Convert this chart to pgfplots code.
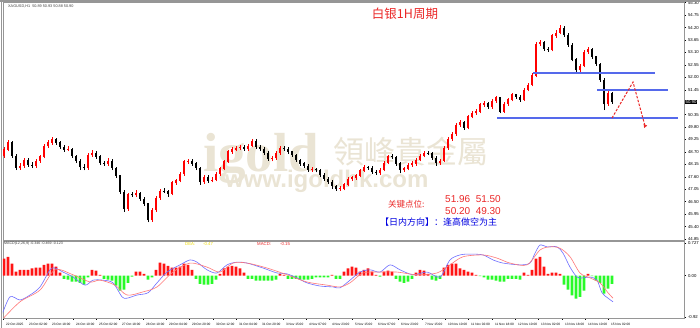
\documentclass[border=0pt]{standalone}
\usepackage{pgfplots}
\pgfplotsset{compat=1.18}
\usepackage{pgfplotstable}
\usetikzlibrary{arrows.meta}
\usepackage{fontspec}
\setmainfont{Liberation Sans}
\newfontfamily\cjk{Noto Sans CJK SC}
\newfontfamily\cjktc{Noto Sans CJK TC}
\newfontfamily\wmserif{Liberation Serif}
\definecolor{candleup}{RGB}{255,0,0}
\definecolor{candledn}{RGB}{0,0,0}
\definecolor{wm}{RGB}{234,228,212}
\definecolor{sline}{RGB}{85,105,235}
\definecolor{histup}{RGB}{255,20,20}
\definecolor{histdn}{RGB}{40,250,40}
\definecolor{difc}{RGB}{110,110,255}
\definecolor{deac}{RGB}{255,120,120}
\definecolor{framec}{RGB}{150,150,150}
\definecolor{titlered}{RGB}{235,40,40}
\definecolor{txtblue}{RGB}{0,0,225}
\definecolor{deay}{RGB}{240,220,0}

\pgfplotstableread{
x o h l c
4 48.52 48.90 48.45 48.79
8 48.79 49.22 48.72 49.14
20 47.99 48.20 47.92 48.08
24 48.08 48.45 48.00 48.34
36 48.08 48.38 48.00 48.30
40 48.30 48.58 48.22 48.48
44 48.48 49.05 48.42 48.96
48 48.96 49.22 48.88 49.10
52 49.10 49.35 49.02 49.27
68 48.79 48.95 48.72 48.82
88 47.99 48.66 47.92 48.56
92 48.56 48.78 48.48 48.65
108 48.17 48.42 48.10 48.30
128 46.18 46.90 46.10 46.80
136 46.78 47.00 46.70 46.88
152 45.69 46.22 45.62 46.13
156 46.13 46.75 46.05 46.66
160 46.66 47.08 46.58 46.97
172 46.84 47.42 46.78 47.33
176 47.33 47.52 47.25 47.42
180 47.42 47.82 47.35 47.72
184 47.72 48.36 47.65 48.26
188 48.26 48.40 48.18 48.30
204 47.37 47.70 47.30 47.59
212 47.42 47.58 47.35 47.46
216 47.46 47.80 47.40 47.72
220 47.72 48.05 47.65 47.95
224 47.95 48.35 47.88 48.26
228 48.26 48.80 48.20 48.70
232 48.70 48.90 48.62 48.79
236 48.79 48.98 48.72 48.87
240 48.87 49.02 48.78 48.92
248 48.83 49.06 48.76 48.96
252 48.96 49.28 48.90 49.18
272 48.39 48.52 48.28 48.41
276 48.41 48.74 48.35 48.65
280 48.65 48.96 48.58 48.87
312 47.90 48.02 47.83 47.92
340 47.06 47.18 46.98 47.08
344 47.08 47.33 47.00 47.24
348 47.24 47.60 47.18 47.50
352 47.50 47.65 47.42 47.55
356 47.55 47.74 47.48 47.64
360 47.64 47.95 47.58 47.86
364 47.86 48.12 47.80 48.03
380 47.77 47.98 47.70 47.90
384 47.90 48.30 47.84 48.21
388 48.21 48.58 48.15 48.48
404 47.90 48.05 47.82 47.95
408 47.95 48.22 47.88 48.12
412 48.12 48.28 48.05 48.17
416 48.17 48.44 48.10 48.34
420 48.34 48.62 48.28 48.52
424 48.52 48.75 48.46 48.65
440 48.21 48.40 48.14 48.30
444 48.30 48.96 48.24 48.87
448 48.87 49.36 48.80 49.27
452 49.27 49.58 49.20 49.49
456 49.49 49.98 49.42 49.89
460 49.89 50.12 49.82 50.02
468 49.76 50.34 49.70 50.25
472 50.25 50.52 50.18 50.42
476 50.42 50.58 50.35 50.47
480 50.47 50.88 50.40 50.78
484 50.78 50.96 50.70 50.86
492 50.69 51.04 50.62 50.95
496 50.95 51.18 50.88 51.09
504 50.47 50.92 50.42 50.82
508 50.82 51.10 50.75 51.00
512 51.00 51.30 50.94 51.22
524 51.00 51.52 50.95 51.44
528 51.44 51.75 51.38 51.66
532 51.66 52.20 51.60 52.06
536 52.06 53.58 52.00 53.47
540 53.47 53.65 53.38 53.52
552 53.21 53.92 53.15 53.83
556 53.83 54.08 53.75 53.96
560 53.96 54.31 53.90 54.18
580 52.32 52.60 52.22 52.50
584 52.50 53.20 52.44 53.12
588 53.12 53.32 53.05 53.21
608 50.80 51.40 50.75 51.30
}\upT

\pgfplotstableread{
x o h l c
12 49.14 49.20 48.45 48.52
16 48.52 48.60 47.90 47.99
28 48.34 48.42 48.05 48.12
32 48.12 48.25 47.98 48.08
56 49.27 49.33 49.02 49.10
60 49.10 49.18 48.85 48.92
64 48.92 49.00 48.70 48.79
72 48.82 48.88 48.45 48.52
76 48.52 48.58 48.20 48.30
80 48.30 48.38 47.92 48.03
84 48.03 48.15 47.88 47.99
96 48.65 48.72 48.40 48.48
100 48.48 48.55 48.12 48.21
104 48.21 48.30 48.08 48.17
112 48.30 48.38 47.90 47.99
116 47.99 48.05 47.55 47.64
120 47.64 47.70 46.85 46.93
124 46.93 47.00 46.05 46.18
132 46.80 46.92 46.70 46.78
140 46.88 46.95 46.55 46.62
144 46.62 46.70 46.30 46.40
148 46.40 46.45 45.58 45.69
164 46.97 47.10 46.88 46.95
168 46.95 47.02 46.72 46.84
192 48.30 48.38 48.10 48.17
196 48.17 48.25 47.90 47.99
200 47.99 48.05 47.25 47.37
208 47.59 47.66 47.33 47.42
244 48.92 49.00 48.75 48.83
256 49.18 49.25 48.85 48.92
260 48.92 49.00 48.74 48.83
264 48.83 48.90 48.58 48.65
268 48.65 48.72 48.30 48.39
284 48.87 48.95 48.76 48.83
288 48.83 48.90 48.62 48.70
292 48.70 48.76 48.48 48.56
296 48.56 48.62 48.26 48.34
300 48.34 48.40 48.08 48.17
304 48.17 48.25 48.00 48.08
308 48.08 48.15 47.82 47.90
316 47.92 48.00 47.80 47.88
320 47.88 47.95 47.60 47.68
324 47.68 47.75 47.42 47.50
328 47.50 47.58 47.28 47.37
332 47.37 47.44 47.05 47.19
336 47.19 47.25 46.98 47.06
368 48.03 48.10 47.92 47.99
372 47.99 48.06 47.74 47.81
376 47.81 47.88 47.68 47.77
392 48.48 48.60 48.38 48.46
396 48.46 48.52 48.10 48.17
400 48.17 48.24 47.75 47.90
428 48.65 48.76 48.56 48.63
432 48.63 48.70 48.36 48.43
436 48.43 48.50 48.10 48.21
464 50.02 50.08 49.68 49.76
488 50.86 50.92 50.60 50.69
500 51.09 51.14 50.40 50.47
516 51.22 51.28 51.05 51.13
520 51.13 51.20 50.92 51.00
544 53.52 53.60 53.18 53.25
548 53.25 53.34 53.12 53.21
564 54.18 54.25 53.80 53.87
568 53.87 53.95 53.35 53.43
572 53.43 53.50 52.70 52.77
576 52.77 52.85 52.20 52.32
592 53.21 53.28 52.82 52.90
596 52.90 52.96 52.50 52.59
600 52.59 52.65 51.80 51.88
604 51.88 51.95 50.55 50.80
612 51.30 51.35 50.82 50.90
}\downT

\pgfplotstableread{
x v
4 0.38
8 0.42
12 0.27
16 0.09
20 0.13
24 0.13
28 0.13
32 0.16
36 0.18
40 0.18
44 0.24
48 0.27
52 0.27
56 0.20
60 0.07
64 -0.07
68 -0.09
72 -0.13
76 -0.13
80 -0.16
84 -0.20
88 -0.04
92 0.13
96 0.11
100 0.02
104 -0.07
108 -0.09
112 -0.11
116 -0.22
120 -0.33
124 -0.31
128 -0.16
132 -0.02
136 0.09
140 0.09
144 0.04
148 -0.09
152 -0.04
156 0.13
160 0.29
164 0.27
168 0.22
172 0.18
176 0.18
180 0.20
184 0.27
188 0.24
192 0.13
196 -0.07
200 -0.18
204 -0.20
208 -0.20
212 -0.18
216 -0.09
220 0.04
224 0.16
228 0.20
232 0.22
236 0.20
240 0.16
244 0.07
248 -0.07
252 -0.07
256 -0.11
260 -0.11
264 -0.11
268 -0.11
272 -0.11
276 -0.09
280 0.04
284 0.02
288 -0.07
292 -0.07
296 -0.07
300 -0.09
304 -0.09
308 -0.09
312 -0.07
316 -0.04
320 -0.04
324 -0.04
328 -0.04
332 0.02
336 -0.07
340 -0.07
344 0.09
348 0.16
352 0.20
356 0.18
360 0.09
364 0.13
368 0.16
372 0.09
376 0.02
380 -0.02
384 0.09
388 0.11
392 0.09
396 -0.07
400 -0.13
404 -0.16
408 -0.13
412 -0.07
416 0.07
420 0.13
424 0.11
428 0.04
432 -0.09
436 -0.11
440 -0.07
444 0.18
448 0.24
452 0.27
456 0.27
460 0.16
464 0.13
468 0.09
472 0.07
476 0.02
480 -0.01
484 -0.04
488 -0.09
492 -0.09
496 -0.11
500 -0.13
504 -0.13
508 -0.07
512 -0.07
516 -0.07
520 -0.09
524 0.07
528 0.02
532 0.13
536 0.38
540 0.42
544 0.20
548 0.04
552 0.07
556 0.07
560 0.04
564 -0.20
568 -0.31
572 -0.44
576 -0.51
580 -0.47
584 -0.33
588 0.04
592 -0.01
596 -0.11
600 -0.16
604 -0.40
608 -0.29
612 -0.18
}\histT

\pgfplotstableread{
x v
2 -0.87
10 -0.47
20 -0.54
30 -0.43
40 -0.25
50 0.13
55 0.17
63 0.08
73 -0.03
85 -0.21
93 -0.10
103 -0.10
113 -0.16
122 -0.47
127 -0.50
137 -0.43
148 -0.38
157 -0.16
167 0.08
180 0.24
190 0.35
197 0.30
207 0.13
217 0.06
227 0.24
237 0.30
247 0.28
263 0.17
277 0.06
287 0.04
297 -0.05
307 -0.16
320 -0.23
333 -0.25
340 -0.27
350 -0.10
360 0.08
370 0.13
380 0.08
390 0.24
400 0.13
413 0.02
427 0.08
440 -0.03
450 0.35
460 0.46
470 0.48
483 0.46
493 0.35
503 0.28
520 0.24
530 0.28
535 0.50
540 0.68
547 0.64
557 0.64
563 0.50
570 0.19
577 -0.03
583 -0.05
590 -0.03
597 -0.10
602 -0.38
608 -0.50
613 -0.58
}\difT

\pgfplotstableread{
x v
2 -0.98
20 -0.58
40 -0.32
55 0.13
73 0.02
90 -0.14
100 -0.10
115 -0.21
127 -0.43
143 -0.36
157 -0.25
173 0.08
190 0.28
207 0.19
220 0.08
233 0.28
247 0.28
267 0.17
287 0.02
307 -0.14
327 -0.21
340 -0.25
350 -0.16
363 0.06
380 0.08
397 0.08
417 0.02
437 0.06
450 0.24
463 0.42
483 0.46
497 0.39
510 0.28
527 0.24
540 0.57
550 0.64
560 0.61
570 0.42
580 0.06
590 -0.05
600 -0.16
608 -0.38
613 -0.50
}\deaT

\begin{document}
\begin{tikzpicture}[x=1pt,y=1pt]
\useasboundingbox (0pt,0pt) rectangle (700pt,328pt);
\fill[white] (0pt,0pt) rectangle (700pt,328pt);
% watermark
\node[anchor=base west, inner sep=0, text=wm, font=\wmserif\bfseries\fontsize{55}{55}\selectfont] at (203pt,156pt) {igold};
\node[anchor=west, inner sep=0, text=wm, font=\cjktc\fontsize{31}{31}\selectfont] at (333pt,176pt) {領峰貴金屬};
\node[anchor=base west, inner sep=0, text=wm, font=\bfseries\fontsize{24}{24}\selectfont] at (225pt,140pt) {www.igoldhk.com};

\begin{axis}[
  at={(3pt,88pt)}, anchor=south west, scale only axis,
  width=681pt, height=238pt,
  xmin=3, xmax=684, ymin=44.806, ymax=55.33,
  axis line style={framec, line width=0.8pt},
  xtick=\empty,
  ytick={44.85,45.40,45.95,46.50,47.05,47.60,48.15,48.70,49.25,49.80,50.35,51.45,52.00,52.55,53.10,53.65,54.20,54.75,55.30},
  yticklabels={44.85,45.40,45.95,46.50,47.05,47.60,48.15,48.70,49.25,49.80,50.35,51.45,52.00,52.55,53.10,53.65,54.20,54.75,55.30},
  ytick pos=right, yticklabel pos=right,
  tick align=outside, major tick length=2pt,
  tick style={black, line width=0.4pt},
  yticklabel style={font=\fontsize{4.3}{5}\selectfont, anchor=west, xshift=-1.5pt},
]
% wicks
\addplot[candleup, forget plot,
  quiver={u=0, v=\thisrow{h}-\thisrow{l}, update limits=false,
    every arrow/.append style={-, line width=0.6pt, line cap=butt}}]
  table[x=x, y=l] {\upT};
\addplot[candledn, forget plot,
  quiver={u=0, v=\thisrow{h}-\thisrow{l}, update limits=false,
    every arrow/.append style={-, line width=0.6pt, line cap=butt}}]
  table[x=x, y=l] {\downT};
% bodies
\addplot[candleup, forget plot,
  quiver={u=0, v=\thisrow{c}-\thisrow{o}+0.02, update limits=false,
    every arrow/.append style={-, line width=2.2pt, line cap=butt}}]
  table[x=x, y=o] {\upT};
\addplot[candledn, forget plot,
  quiver={u=0, v=\thisrow{o}-\thisrow{c}+0.02, update limits=false,
    every arrow/.append style={-, line width=2.2pt, line cap=butt}}]
  table[x=x, y=c] {\downT};
% support / resistance
\addplot[sline, line width=1.8pt] coordinates {(533,52.18) (655,52.18)};
\addplot[sline, line width=1.8pt] coordinates {(597,51.44) (668,51.44)};
\addplot[sline, line width=1.8pt] coordinates {(497,50.21) (678,50.21)};
% projected path
\addplot[titlered, line width=1pt, dash pattern=on 2.5pt off 1.5pt]
  coordinates {(612,50.20) (633,51.79) (645,49.85)};
\addplot[titlered, only marks, mark=triangle*, mark size=1.8pt, mark options={rotate=180-22}]
  coordinates {(645,49.85)};
\end{axis}

\begin{axis}[
  at={(3pt,10pt)}, anchor=south west, scale only axis,
  width=681pt, height=77pt,
  xmin=3, xmax=684, ymin=-0.94, ymax=0.77,
  axis line style={framec, line width=0.8pt},
  ytick={-0.92,0,0.727}, yticklabels={-0.92,0.00,0.727},
  ytick pos=right, yticklabel pos=right,
  xtick={3,26,49,73,96,119,143,166,189,213,236,259,283,306,329,352,375,398,422,445,468,492,515,538,562,585,608},
  xticklabels={22 Oct 2025,23 Oct 02:00,23 Oct 18:00,24 Oct 10:00,25 Oct 02:00,27 Oct 18:00,28 Oct 10:00,29 Oct 04:00,29 Oct 20:00,30 Oct 12:00,31 Oct 04:00,31 Oct 20:00,3 Nov 15:00,4 Nov 07:00,4 Nov 23:00,5 Nov 15:00,6 Nov 07:00,6 Nov 23:00,7 Nov 15:00,10 Nov 10:00,11 Nov 02:00,11 Nov 18:00,12 Nov 10:00,13 Nov 02:00,13 Nov 18:00,14 Nov 10:00,15 Nov 02:00},
  xtick pos=bottom,
  tick align=outside, major tick length=2pt,
  tick style={black, line width=0.4pt},
  yticklabel style={font=\fontsize{4.3}{5}\selectfont, anchor=west, xshift=-1.5pt},
  xticklabel style={font=\fontsize{3.2}{3.6}\selectfont, anchor=north west, xshift=-0.5pt, yshift=0.5pt},
]
\addplot[ybar, bar width=2.6, fill=histup, draw=none, restrict y to domain=0:5, forget plot] table[x=x, y=v] {\histT};
\addplot[ybar, bar width=2.6, fill=histdn, draw=none, restrict y to domain=-5:0, forget plot] table[x=x, y=v] {\histT};
\addplot[difc, line width=0.6pt, smooth, tension=0.5] table[x=x, y=v] {\difT};
\addplot[deac, line width=0.6pt, smooth, tension=0.5] table[x=x, y=v] {\deaT};
\end{axis}

% frame bits
\fill[framec] (0pt,326pt) rectangle (700pt,328pt);
\draw[framec, line width=0.8pt] (1.5pt,0pt) -- (1.5pt,328pt);

% current price box
\node[fill=black, text=white, inner sep=0.7pt, anchor=west, font=\fontsize{4.3}{5}\selectfont] at (684.8pt,225.8pt) {50.90};

% header texts
\node[anchor=west, inner sep=0, font=\fontsize{3.8}{4.3}\selectfont, text=black!75] at (8pt,322pt) {XAGUSD,H1\ \ 50.89 50.93 50.88 50.90};
\node[anchor=west, inner sep=0, font=\fontsize{3.6}{4.1}\selectfont, text=black!75] at (4pt,84pt) {MACD(12,26,9) -0.346 -0.469 -0.123};
\node[anchor=west, inner sep=0, font=\fontsize{4.3}{5}\selectfont, text=deay] at (185pt,84pt) {DEA:};
\node[anchor=west, inner sep=0, font=\fontsize{4.3}{5}\selectfont, text=deay] at (203pt,84pt) {-0.47};
\node[anchor=west, inner sep=0, font=\fontsize{4.3}{5}\selectfont, text=titlered] at (257pt,84pt) {MACD:};
\node[anchor=west, inner sep=0, font=\fontsize{4.3}{5}\selectfont, text=titlered] at (280pt,84pt) {-0.15};

% title and annotations
\node[inner sep=0, font=\cjk\fontsize{12.5}{13}\selectfont, text=titlered] at (405pt,314pt) {白银1H周期};
\node[anchor=west, inner sep=0, font=\cjk\fontsize{8.5}{9}\selectfont, text=titlered] at (388pt,124pt) {关键点位:};
\node[anchor=west, inner sep=0, font=\fontsize{10}{11}\selectfont, text=titlered] at (445pt,129pt) {51.96\ \ 51.50};
\node[anchor=west, inner sep=0, font=\fontsize{10}{11}\selectfont, text=titlered] at (445pt,117pt) {50.20\ \ 49.30};
\node[anchor=west, inner sep=0, font=\cjk\fontsize{9}{10}\selectfont, text=txtblue] at (380pt,106pt) {【日内方向】：逢高做空为主};
\end{tikzpicture}
\end{document}
